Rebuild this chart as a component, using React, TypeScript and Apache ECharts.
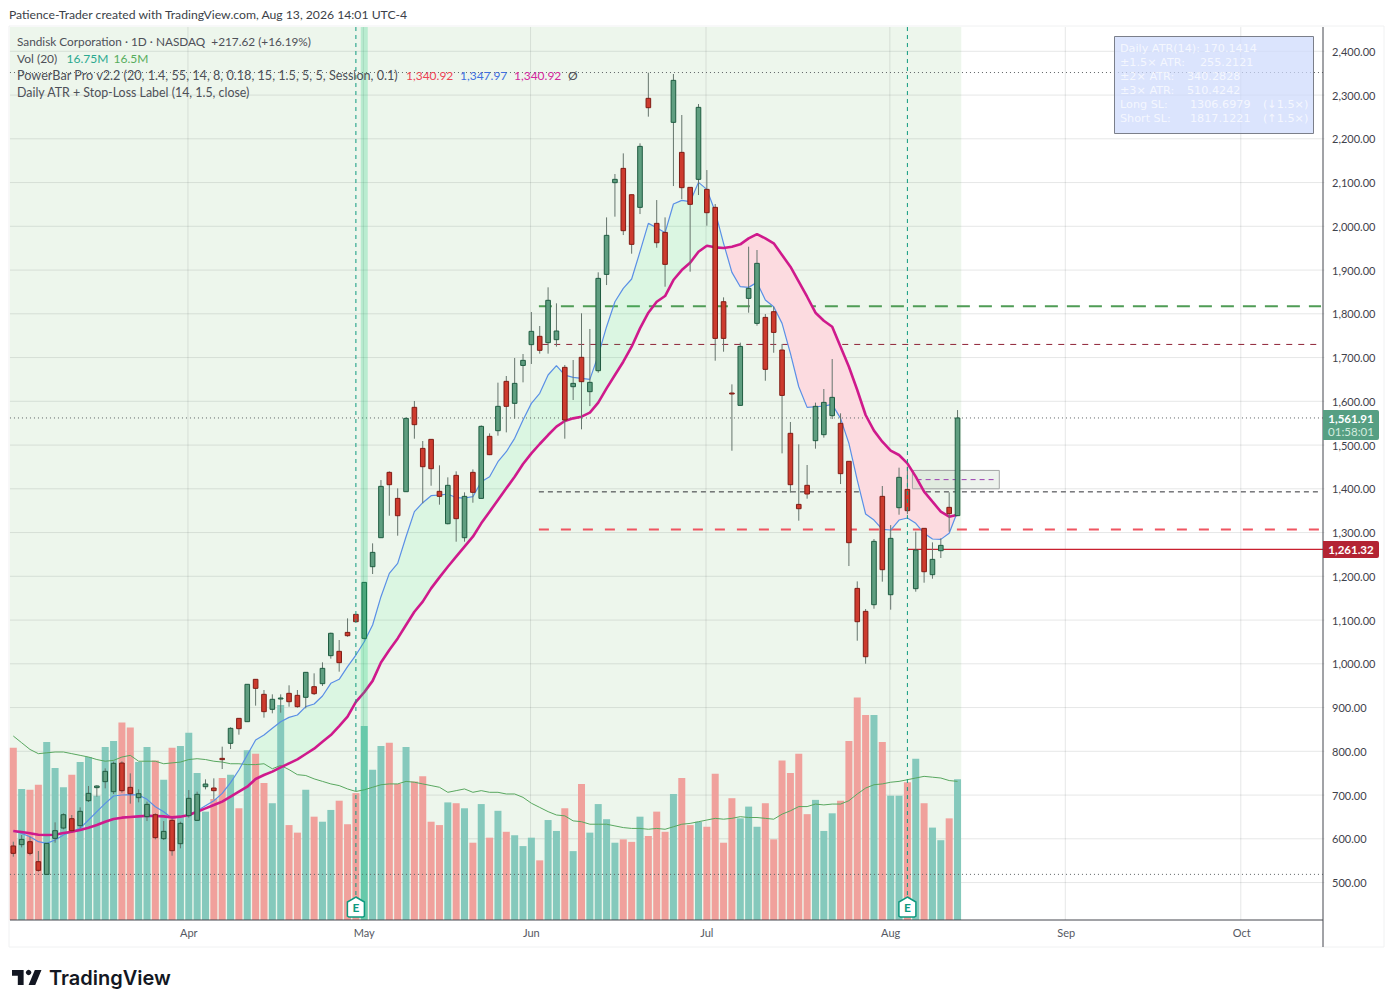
import React, { useEffect, useRef } from "react";
import * as echarts from "echarts";

const opens = [583.6,586.6,593.4,547.7,518.7,601,624.6,646,630,687.1,716.9,730.6,707.7,773.2,717.6,694,650.6,655.1,600.3,642.2,588.8,652.8,642.2,719.1,716.1,783.9,818.2,875.3,867.7,964.5,930.2,895.9,920.3,932.5,927.9,923.4,947.7,954.6,1018.6,1028.5,1071.8,1113,1058.1,1221.9,1288.2,1437.6,1378.1,1393.4,1586.2,1492.4,1513,1394.2,1320.2,1430.7,1288.2,1437.6,1378.1,1519.9,1532.8,1645.6,1595.3,1682,1729.5,1748.5,1734,1740.9,1677.6,1633.4,1700.5,1622,1670,1890.1,2099.7,2132.4,2072.2,2043.3,2292.5,2006.7,1986.1,2237.6,2169,2089,2107.3,2084.4,2043.3,1827.6,1618.9,1590.7,1835.3,1778.1,1791.8,1804.8,1717.2,1526.8,1364.4,1407.9,1510,1523.7,1567.1,1549.6,1462.8,1172.4,1119.9,1135.1,1382.7,1157.9,1356.8,1398.7,1171.7,1309.6,1203.7,1258.5,1357.6,1338.6];
const highs = [593.4,608.6,604.8,572.1,589.6,637.6,658.2,654.4,671.9,720.7,722.2,761,776.3,777,749.6,713,684.9,658.2,640.6,646,639.1,711.5,707.7,735.9,738.2,810.6,854.8,875.3,953.1,964.5,940.1,930.2,930.2,950.8,940.1,980.5,978.2,1003.4,1071.2,1054.4,1103.8,1113,1186.1,1275.3,1420,1439.9,1401,1563.3,1600.7,1509.2,1513,1453.6,1426.2,1439.9,1391.9,1444.4,1545,1526.7,1642.6,1657.8,1699,1708.1,1804.1,1772.1,1860.5,1823.9,1683,1694.4,1801.1,1765.3,1894.8,2020.4,2119.5,2166.7,2072.2,2189.6,2351.1,2060,2020.4,2348.1,2254.4,2089,2279.5,2128.6,2050.9,1837.6,1638.7,1734,1953.4,1945.8,1799.5,1816,1731,1552.7,1501.6,1454.4,1596.9,1628.1,1696.6,1572.5,1462.8,1188.4,1125.2,1285.2,1406.4,1317,1448.3,1450.6,1302,1309.6,1277.6,1286.7,1391.9,1580];
const lows = [559.1,580.4,562.2,524.8,518.7,591.1,621.6,616.3,623.9,684.1,696.3,715.3,702.4,705.4,680.3,683.3,640.6,598.7,597.2,561.4,578.2,648.3,641.4,713,690.2,759.5,805.2,838,867.7,904.3,876.9,886.8,888.3,902,899.7,898.2,928.7,949.3,1011.7,982,1061.9,1096.2,1055,1205.2,1288,1338.5,1292.8,1393,1514.5,1366.7,1407,1363.7,1318.7,1279.1,1279.1,1368.2,1378,1477,1521.4,1529,1560.3,1643.3,1685.3,1708.9,1708.9,1724.9,1514.5,1603,1535.9,1589,1665.4,1865.7,2022,1980,1937.4,2028,2250.6,1951,1861.9,2092,2062.3,1896.2,2071.5,2001.4,1692.8,1713.4,1487,1590.7,1802.5,1772.8,1647,1711,1481,1391.1,1327.1,1377.4,1491.7,1516.9,1559.5,1410.9,1223.5,1052.8,1000.2,1125.9,1187.7,1123.7,1340.8,1342,1164.8,1185.4,1194.5,1241.8,1302,1338];
const closes = [566.7,598.7,566.7,527.9,589.6,618.6,655.1,618.6,662.8,703.9,720.7,754.2,772.5,710,703.1,703.1,678.7,602.6,617,572.8,635.3,692.5,701.6,725.2,710,780.9,852.5,851.7,953.1,943.9,890.6,918.8,921.8,913.4,902,980.5,931.7,989.6,1069.7,1002.6,1064.2,1096.2,1186.1,1254.7,1405.6,1409.4,1338.5,1561,1546.6,1450.5,1446,1382.7,1407.9,1331.7,1382.7,1391.9,1542.7,1478,1588.5,1588.5,1641,1693.6,1759.9,1716.5,1830.8,1760.7,1557.2,1641,1644.9,1643.3,1881,1979.3,2107.3,1990,1958.7,2182.7,2271.1,1962.5,1913,2333.6,2088.3,2050.2,2271.9,2031.1,1743.8,1743.8,1617.3,1725.5,1858.1,1915.3,1673,1757.5,1613.5,1409.4,1354.5,1388.1,1588.5,1597.6,1609,1434.6,1276.8,1096.2,1016.2,1279.9,1215.1,1286.7,1426.2,1350,1260,1210.5,1238.7,1270.7,1343.1,1561.91];
const volumes = [20.5,15.6,15.5,16.1,21.2,18.1,15.8,17.3,18.8,19.4,14.8,20.6,21.3,23.5,22.9,18.8,20.6,19,16.7,20.5,20.7,22.3,17.5,12.9,14.4,16.9,17.3,13.3,20.2,19.8,16.3,13.9,25.6,11.3,10.4,15.5,12.3,11.7,13.1,14.2,11.4,15.1,23.1,17.9,20.7,21.1,16.2,20.6,16.5,17.1,11.7,11.3,14,13.9,13.3,9.2,13.8,9.8,13,10.5,10.1,8.8,9.8,7.1,11.9,10.6,13.3,8.2,16.2,10.4,13.8,12,9.2,9.6,9.3,12.3,10,12.9,10.5,15,16.9,11.3,11.7,11.1,17.4,9.2,14.5,12.1,13.5,11.1,13.9,9.6,19,17.5,19.8,12.6,14.3,10.6,12.7,14.2,21.3,26.5,24.4,24.4,21.2,14.8,14.8,16.4,19.2,13.9,11,9.5,12.1,16.75];
const volumeMA = [21.9,21.1,20.3,19.8,19.9,20,20,19.8,19.6,19.4,19.1,18.9,19,19.4,19.6,18.9,18.9,18.9,18.6,18.7,18.8,19.1,19.2,19.1,18.9,18.8,18.6,18.6,18.5,18.5,18.6,18,18.4,17.9,17.3,17.2,16.8,16.5,16.2,16,15.6,15.3,15.5,15.8,16.1,16.2,16.2,16.5,16.4,16.2,16,15.8,15.2,15.4,15.6,15.2,15.4,15.2,15.2,15,15,14.6,13.9,13.4,12.9,12.5,12.4,11.8,11.7,11.4,11.4,11.4,11.2,11,10.9,10.9,10.8,10.9,10.8,11.1,11.4,11.5,11.7,11.9,12.1,12,12.1,12.3,12.2,12.2,12.1,12,12.6,13,13.5,13.5,13.8,13.7,13.8,13.8,14.2,15,15.7,16.1,16.2,16.4,16.5,16.7,16.9,17.1,17,16.9,16.6,16.5];
const slowLine = [617.8,615.5,612.5,609.4,608.7,609.4,613.2,616.3,620.1,625.4,631.5,639.1,645.2,648.3,649.8,651.3,652.8,652.1,651.3,649,650.6,654.4,662,669.6,677.2,684.9,696.3,707.7,719.1,736.7,745.8,753.5,763.3,772.5,781.6,793.8,806,822,837.2,857.8,879.2,913,935,961,1003,1031.4,1058,1088.6,1119,1142,1172.4,1197.6,1221.9,1244.8,1267.7,1290.5,1321,1347.7,1374.3,1401,1427.7,1456.6,1481,1502.4,1522.9,1542,1554.9,1561,1564.8,1574,1597,1629.5,1660,1690.5,1724.8,1766.7,1802.5,1827.6,1840.6,1877.2,1900,1916.8,1941.9,1955.7,1951.9,1950.3,1953.4,1958.7,1972.4,1982.3,1972.4,1961,1934.3,1907.7,1873.4,1839,1802.5,1784.2,1770.5,1724.8,1679,1625.8,1568.7,1532.9,1507.7,1487.1,1477.2,1458.2,1427.7,1393.4,1370.5,1347.7,1336.3,1340.92];
const fastLine = [617.8,612.5,604.8,593.4,589.6,597.2,608.6,616.3,623.9,642.9,662,681,697.8,700.1,700.9,700.1,690.2,673.4,662,646.8,650.6,654.4,664.3,675.7,687.1,703.9,728.3,757.2,791.5,825.8,837.2,852.5,867.7,877.6,883,902,908.1,926.4,955.4,964.5,993.5,1020,1050.5,1088.6,1153.4,1206.7,1229.6,1290.5,1347.7,1368.2,1384.2,1385.8,1388,1379.7,1378.9,1382,1416.3,1427.7,1462,1484.8,1515.3,1557.2,1595.3,1618.2,1660.1,1681.4,1660,1654.8,1652.5,1650.2,1705,1770.5,1827.6,1858.1,1879.5,1942,2006.7,1996.8,1985.4,2050.9,2059.3,2056.2,2100.4,2084.4,2033.4,1961,1894.7,1861.9,1860.4,1871.8,1831.5,1816.2,1778.1,1709.5,1633.3,1586.1,1587.6,1589.1,1593,1561,1503.9,1420,1342.4,1328.6,1307.3,1305.8,1328.6,1333.2,1321,1298.2,1285.2,1284.4,1298.2,1347.97];

const monthTicks: [number, string][] = [[21, "Apr"], [42, "May"], [62, "Jun"], [83, "Jul"], [105, "Aug"], [126, "Sep"], [147, "Oct"]];
const slotCount = 157;
const categories = Array.from({ length: slotCount }, (_, i) => (monthTicks.find((m) => m[0] === i) || [0, ""])[1] as string);
const priceTicks = [500,600,700,800,900,1000,1100,1200,1300,1400,1500,1600,1700,1800,1900,2000,2100,2200,2300,2400];
const earningsIdx = [41, 107];
const highlightIdx = 42;
const dottedLevels = [2351.5, 1561.91, 518.7];
const levelLines = [
  { price: 1817.12, from: 62.9, color: "#4f9c55", width: 2, dash: [13, 9] },
  { price: 1730, from: 63.3, color: "#8e2236", width: 1, dash: [6, 6] },
  { price: 1393, from: 62.9, color: "#2f3136", width: 1, dash: [5, 4] },
  { price: 1306.7, from: 62.9, color: "#ef5561", width: 2, dash: [10, 12] },
];
const lastPriceLine = { price: 1261.32, from: 107 };
const boxLevels = { top: 1442, bottom: 1400, mid: 1421, from: 107.6, to: 118 };
const infoRows: [string, number, string, string?][] = [
  ["Daily ATR(14): 170.1414", 0, ""],
  ["±1.5× ATR:", 1200, "255.2121"],
  ["±2× ATR:", 1187, "340.2828"],
  ["±3× ATR:", 1187, "510.4242"],
  ["Long SL:", 1190, "1306.6979", "(↓1.5×)"],
  ["Short SL:", 1190, "1817.1221", "(↑1.5×)"],
];

const PRICE_BOTTOM = 414.4;
const PRICE_TOP = 2455.5;
const IDX_LEFT = -0.4;
const IDX_DATA_END = 113.45;
const IDX_RIGHT = 156.9;
const FONT = "Lato, 'Noto Sans', sans-serif";
const INFO_FONT = "'DejaVu Sans', sans-serif";

const single = (name: string, z: number, draw: (api: any) => any[]) => ({
  type: "custom",
  name,
  z,
  silent: true,
  clip: false,
  xAxisIndex: 0,
  yAxisIndex: 0,
  encode: { x: 0, y: 1 },
  data: [[0, 1000]],
  renderItem: (_p: any, api: any) => ({ type: "group", children: draw(api) }),
});

// A point at a fractional slot position: a category axis rounds fractional indexes, so step from slot 0.
const pt = (api: any, idx: number, price: number) => {
  const c = api.coord([0, price]);
  return [c[0] + idx * api.size([1, 0])[0], c[1]];
};

const ln = (a: number[], b: number[], style: any) => ({ type: "line", shape: { x1: a[0], y1: a[1], x2: b[0], y2: b[1] }, style });

function fillRuns(api: any) {
  const out: any[] = [];
  const start = 24;
  let upper: number[][] = [];
  let lower: number[][] = [];
  let sign = fastLine[start] >= slowLine[start] ? 1 : -1;
  const flush = () => {
    if (upper.length > 1) out.push({ type: "polygon", shape: { points: [...upper, ...lower.slice().reverse()] }, style: { fill: sign > 0 ? "rgba(0,255,110,0.075)" : "#fcdbe0" } });
  };
  for (let i = start; i < fastLine.length; i++) {
    const s = fastLine[i] >= slowLine[i] ? 1 : -1;
    if (s !== sign) {
      const d0 = fastLine[i - 1] - slowLine[i - 1];
      const d1 = fastLine[i] - slowLine[i];
      const t = d0 / (d0 - d1);
      const c = pt(api, i - 1 + t, fastLine[i - 1] + t * (fastLine[i] - fastLine[i - 1]));
      upper.push(c);
      lower.push(c);
      flush();
      sign = s;
      upper = [c];
      lower = [c];
    }
    upper.push(pt(api, i, fastLine[i]));
    lower.push(pt(api, i, slowLine[i]));
  }
  flush();
  return out;
}

const gt = (text: string, x: number, y: number, fill: string, size: number, extra: any = {}) => ({
  type: "text", silent: true, z: 50,
  style: { text, x, y, verticalAlign: "middle", fill, font: `${size}px ${FONT}`, ...extra },
});

function App() {
  const ref = useRef<HTMLDivElement>(null);
  useEffect(() => {
    document.body.style.margin = "0";
    const chart = echarts.init(ref.current!, undefined, { renderer: "svg" });
    echarts.graphic.registerShape("tvlogoA", echarts.graphic.extendPath("M14 22H7V11H0V4h14v18zM28 22h-8l7.5-18h8L28 22z", {}) as any);

    const option: any = {
      animation: false,
      backgroundColor: "#ffffff",
      grid: [
        { left: 9.12, width: 1311.9, top: 7.55, height: 918.75 },
        { left: 9.12, width: 1311.9, top: 27, height: 893 },
      ],
      xAxis: [
        { type: "category", gridIndex: 0, data: categories, show: false },
        {
          type: "category", gridIndex: 1, data: categories,
          axisLine: { show: false }, axisTick: { show: false }, splitLine: { show: false },
          axisLabel: { interval: (_i: number, v: string) => v !== "", color: "#555862", fontSize: 11, fontFamily: FONT, margin: 7 },
        },
      ],
      yAxis: [
        {
          type: "value", gridIndex: 0, position: "right", min: 400, max: 2500, interval: 100,
          axisLine: { show: false }, axisTick: { show: false }, splitLine: { show: false },
          axisLabel: {
            color: "#3f424b", fontSize: 11, fontFamily: FONT, margin: 11, padding: [0, 0, 4, 0],
            formatter: (v: number) => (priceTicks.includes(v) ? v.toLocaleString("en-US", { minimumFractionDigits: 2 }) : ""),
          },
        },
        { type: "value", gridIndex: 1, min: 0, max: 106.3, show: false },
      ],
      series: [
        single("background", 1, (api) => {
          const tl = pt(api, IDX_LEFT, PRICE_TOP);
          const br = pt(api, IDX_DATA_END, PRICE_BOTTOM);
          return [{ type: "rect", shape: { x: tl[0], y: tl[1], width: br[0] - tl[0], height: br[1] - tl[1] }, style: { fill: "#edf6ec" } }];
        }),
        single("gridlines", 2, (api) => {
          const s = { stroke: "rgba(60,70,70,0.13)", lineWidth: 1 };
          return [
            ...priceTicks.map((p) => ln(pt(api, IDX_LEFT, p), pt(api, IDX_RIGHT, p), s)),
            ...monthTicks.map((m) => ln(pt(api, m[0] - 0.1, PRICE_TOP), pt(api, m[0] - 0.1, PRICE_BOTTOM), s)),
          ];
        }),
        single("levels", 3, (api) =>
          levelLines.map((l) => ln(pt(api, l.from, l.price), pt(api, 156.5, l.price), { stroke: l.color, lineWidth: l.width, lineDash: l.dash }))
        ),
        single("ema fill", 4, fillRuns),
        {
          type: "bar", name: "Vol", xAxisIndex: 1, yAxisIndex: 1, z: 5, barWidth: 7, silent: true,
          data: volumes.map((v, i) => ({ value: v, itemStyle: { color: closes[i] >= opens[i] ? "#85c9bc" : "#f0a19c" } })),
        },
        { type: "line", name: "Vol MA", xAxisIndex: 1, yAxisIndex: 1, z: 6, data: volumeMA, showSymbol: false, silent: true, lineStyle: { color: "#58a75f", width: 1 } },
        single("dotted", 7, (api) =>
          dottedLevels.map((p) => ln(pt(api, IDX_LEFT, p), pt(api, IDX_RIGHT, p), { stroke: "#5e6366", lineWidth: 1, lineDash: [1, 3] }))
        ),
        single("last price line", 7, (api) => [
          ln(pt(api, lastPriceLine.from, lastPriceLine.price), pt(api, IDX_RIGHT, lastPriceLine.price), { stroke: "#c8202f", lineWidth: 1.2 }),
        ]),
        single("range box", 7, (api) => {
          const tl = pt(api, boxLevels.from, boxLevels.top);
          const br = pt(api, boxLevels.to, boxLevels.bottom);
          return [
            { type: "rect", shape: { x: tl[0], y: tl[1], width: br[0] - tl[0], height: br[1] - tl[1] }, style: { fill: "rgba(190,210,190,0.28)", stroke: "#a3a6a5", lineWidth: 1 } },
            ln(pt(api, boxLevels.from + 0.5, boxLevels.mid), pt(api, boxLevels.to - 0.3, boxLevels.mid), { stroke: "#9b3fb0", lineWidth: 1, lineDash: [5, 4] }),
          ];
        }),
        { type: "line", name: "Fast", xAxisIndex: 0, yAxisIndex: 0, z: 8, data: fastLine, showSymbol: false, silent: true, lineStyle: { color: "#5a8fe6", width: 1.2 } },
        { type: "line", name: "Slow", xAxisIndex: 0, yAxisIndex: 0, z: 8, data: slowLine, showSymbol: false, silent: true, lineStyle: { color: "#cf1a8c", width: 2.6 } },
        {
          type: "custom", name: "Candles", z: 9, silent: true, clip: false, xAxisIndex: 0, yAxisIndex: 0,
          encode: { x: 0, y: [1, 2, 3, 4] },
          data: closes.map((c, i) => [i, opens[i], c, lows[i], highs[i]]),
          renderItem: (_p: any, api: any) => {
            const i = api.value(0), o = api.value(1), c = api.value(2), l = api.value(3), h = api.value(4);
            const up = c >= o;
            const hi = api.coord([i, h]);
            const lo = api.coord([i, l]);
            const top = api.coord([i, Math.max(o, c)])[1];
            const bot = api.coord([i, Math.min(o, c)])[1];
            const x = hi[0];
            return {
              type: "group",
              children: [
                ln([x, hi[1]], [x, lo[1]], { stroke: "#66756d", lineWidth: 1 }),
                {
                  type: "rect",
                  shape: { x: x - 2.3, y: top, width: 4.6, height: Math.max(bot - top, 1) },
                  style: up ? { fill: "#5f9e80", stroke: "#1f5c41", lineWidth: 1 } : { fill: "#cd3b2e", stroke: "#801c15", lineWidth: 1 },
                },
              ],
            };
          },
        },
        single("highlight", 10, (api) => {
          const a = pt(api, highlightIdx - 0.42, PRICE_TOP);
          const b = pt(api, highlightIdx + 0.42, PRICE_BOTTOM);
          return [{ type: "rect", shape: { x: a[0], y: a[1], width: b[0] - a[0], height: b[1] - a[1] }, style: { fill: "rgba(0,200,108,0.22)" } }];
        }),
        single("earnings", 11, (api) =>
          earningsIdx.flatMap((i) => {
            const t = pt(api, i, PRICE_TOP);
            const b = pt(api, i, PRICE_BOTTOM);
            const x = t[0];
            const y = b[1];
            return [
              ln([x, t[1]], [x, y - 23], { stroke: "#0e9a7f", lineWidth: 1, lineDash: [4, 4] }),
              {
                type: "polygon",
                shape: { points: [[x, y - 23], [x + 8.5, y - 18], [x + 8.5, y - 4], [x + 7, y - 3], [x - 7, y - 3], [x - 8.5, y - 4], [x - 8.5, y - 18]] },
                style: { fill: "#ffffff", stroke: "#0e9a7f", lineWidth: 1.5 },
              },
              { type: "text", style: { text: "E", x, y: y - 12.5, align: "center", verticalAlign: "middle", fill: "#0e9a7f", font: `bold 12px ${FONT}` } },
            ];
          })
        ),
      ],
      graphic: [
        { type: "rect", silent: true, z: 1, shape: { x: 9, y: 26, width: 1375, height: 921 }, style: { fill: "none", stroke: "#f0f1f2", lineWidth: 1 } },
        { type: "line", silent: true, z: 50, shape: { x1: 1323, y1: 27, x2: 1323, y2: 947 }, style: { stroke: "#44474f", lineWidth: 1 } },
        { type: "line", silent: true, z: 50, shape: { x1: 10, y1: 920, x2: 1323, y2: 920 }, style: { stroke: "#44474f", lineWidth: 1 } },

        gt("Patience-Trader created with TradingView.com, Aug 13, 2026 14:01 UTC-4", 9, 14, "#3c3f48", 12.2),
        gt("Sandisk Corporation · 1D · NASDAQ  +217.62 (+16.19%)", 17, 41.5, "#4d5058", 11.8),
        gt("Vol (20)", 17, 58.5, "#4d5058", 12),
        gt("16.75M", 66.5, 58.5, "#2aa98f", 12),
        gt("16.5M", 113.5, 58.5, "#56ad5c", 12),
        gt("PowerBar Pro v2.2 (20, 1.4, 55, 14, 8, 0.18, 15, 1.5, 5, 5, Session, 0.1)", 17, 75.5, "#4d5058", 12.65),
        gt("1,340.92", 406, 75.5, "#ee4455", 12),
        gt("1,347.97", 460, 75.5, "#3f70e0", 12),
        gt("1,340.92", 514, 75.5, "#d4279e", 12),
        gt("Ø", 568, 75.5, "#4d5058", 12),
        gt("Daily ATR + Stop-Loss Label (14, 1.5, close)", 17, 92.5, "#4d5058", 12.4),

        { type: "rect", silent: true, z: 50, shape: { x: 1114.5, y: 36.5, width: 199, height: 97 }, style: { fill: "rgba(205,218,252,0.72)", stroke: "#7b7f8a", lineWidth: 1 } },
        ...infoRows.flatMap((r, i) => {
          const y = 48.3 + i * 14.1;
          const c = "rgba(255,255,255,0.72)";
          const font = { font: `11.2px ${INFO_FONT}` };
          const items: any[] = [gt(r[0], 1120, y, c, 11.2, font)];
          if (r[2]) items.push(gt(r[2], r[1], y, c, 11.2, font));
          if (r[3]) items.push(gt(r[3], 1263, y, c, 11.2, font));
          return items;
        }),

        { type: "rect", silent: true, z: 52, shape: { x: 1323, y: 410, width: 56, height: 30, r: [0, 2, 2, 0] }, style: { fill: "#569f83" } },
        { ...gt("1,561.91", 1351, 418.5, "#ffffff", 11.5, { align: "center", font: `bold 11.5px ${FONT}` }), z: 53 },
        { ...gt("01:58:01", 1351, 431.5, "#d3ecdf", 11.5, { align: "center" }), z: 53 },
        { type: "rect", silent: true, z: 52, shape: { x: 1323, y: 541, width: 56, height: 17, r: [0, 2, 2, 0] }, style: { fill: "#b32433" } },
        { ...gt("1,261.32", 1351, 549.5, "#ffffff", 11.5, { align: "center", font: `bold 11.5px ${FONT}` }), z: 53 },

        { type: "tvlogoA", silent: true, z: 50, x: 12, y: 966.7, scaleX: 0.83, scaleY: 0.83, style: { fill: "#131722" } },
        { type: "circle", silent: true, z: 50, shape: { cx: 28.6, cy: 972.5, r: 2.7 }, style: { fill: "#131722" } },
        { type: "text", silent: true, z: 50, style: { text: "TradingView", x: 49, y: 978, verticalAlign: "middle", fill: "#131722", font: `600 20px Inter, sans-serif` } },
      ],
    };
    chart.setOption(option);
    return () => chart.dispose();
  }, []);
  return <div ref={ref} style={{ position: "absolute", left: 0, top: 0, width: 1395, height: 1008 }} />;
}

export default App;
